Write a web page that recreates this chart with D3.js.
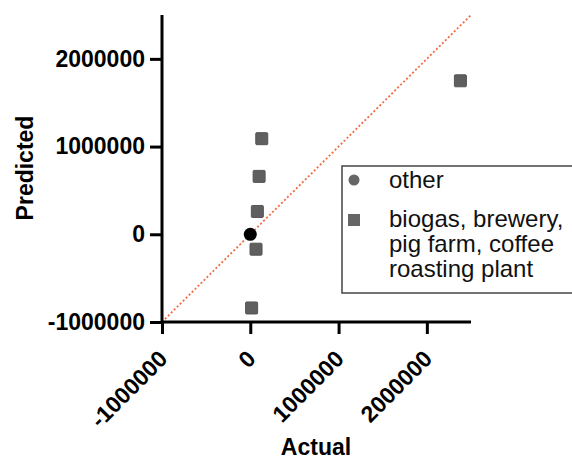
<!DOCTYPE html>
<html>
<head>
<meta charset="utf-8">
<script src="https://cdn.jsdelivr.net/npm/d3@7"></script>
<style>
  html, body { margin: 0; padding: 0; background: #fff; }
  svg { display: block; font-family: "Liberation Sans", Arial, sans-serif; }
</style>
</head>
<body>
<svg id="chart" width="572" height="460"></svg>
<script>
// Actual vs predicted values
const otherActual = [0];
const otherPredicted = [0];
const plantActual = [15000, 65000, 80000, 100000, 130000, 2380000];
const plantPredicted = [-840000, -170000, 260000, 660000, 1090000, 1750000];
const tickValues = [-1000000, 0, 1000000, 2000000];
const axisDomain = [-1000000, 2500000];
const legendLabels = ["other", ["biogas, brewery,", "pig farm, coffee", "roasting plant"]];

const svg = d3.select("#chart");
const x = d3.scaleLinear().domain(axisDomain).range([162, 471]);
const y = d3.scaleLinear().domain(axisDomain).range([322, 15]);
const fmt = d => (d < 0 ? "-" : "") + Math.abs(d);

// Identity line y = x
svg.append("line")
  .attr("x1", x(axisDomain[0])).attr("y1", y(axisDomain[0]))
  .attr("x2", x(axisDomain[1])).attr("y2", y(axisDomain[1]))
  .attr("stroke", "#f36a40").attr("stroke-width", 1.8)
  .attr("stroke-dasharray", "2,2.2");

// Axes
const yAxis = svg.append("g").attr("transform", `translate(${x(axisDomain[0])},0)`)
  .call(d3.axisLeft(y).tickValues(tickValues).tickFormat(fmt).tickSize(12).tickPadding(5));
const xAxis = svg.append("g").attr("transform", `translate(0,${y(axisDomain[0])})`)
  .call(d3.axisBottom(x).tickValues(tickValues).tickFormat(fmt).tickSize(12).tickPadding(4));

[xAxis, yAxis].forEach(g => {
  g.select(".domain").attr("stroke", "#000").attr("stroke-width", 3);
  g.selectAll(".tick line").attr("stroke", "#000").attr("stroke-width", 3);
  g.selectAll(".tick text").attr("fill", "#000").attr("font-size", 23)
    .attr("font-weight", "bold").attr("font-family", "Liberation Sans, Arial, sans-serif");
});
yAxis.select(".domain").attr("d", `M0,${y(axisDomain[1])}V${y(axisDomain[0])}`);
xAxis.select(".domain").attr("d", `M${x(axisDomain[0])},0H${x(axisDomain[1])}`);

xAxis.selectAll(".tick text")
  .attr("text-anchor", "end")
  .attr("dy", 0)
  .attr("transform", "translate(-5,27) rotate(-45)");

// Axis titles
svg.append("text").attr("x", 316).attr("y", 455).attr("text-anchor", "middle")
  .attr("font-size", 23).attr("font-weight", "bold").text("Actual");
svg.append("text").attr("transform", "translate(33,168) rotate(-90)").attr("text-anchor", "middle")
  .attr("font-size", 23).attr("font-weight", "bold").text("Predicted");

// Data points
const sq = 12;
svg.append("g").selectAll("rect")
  .data(plantActual.map((a, i) => [a, plantPredicted[i]]))
  .join("rect")
  .attr("x", d => x(d[0]) - sq / 2).attr("y", d => y(d[1]) - sq / 2)
  .attr("width", sq).attr("height", sq).attr("rx", 1)
  .attr("fill", "#5f5f5f").attr("stroke", "#555").attr("stroke-width", 1);

svg.append("g").selectAll("circle")
  .data(otherActual.map((a, i) => [a, otherPredicted[i]]))
  .join("circle")
  .attr("cx", d => x(d[0])).attr("cy", d => y(d[1])).attr("r", 6.5)
  .attr("fill", "#000");

// Legend
const lg = svg.append("g");
lg.append("rect").attr("x", 342).attr("y", 166).attr("width", 260).attr("height", 127)
  .attr("fill", "#fff").attr("stroke", "#444").attr("stroke-width", 1.5);
lg.append("circle").attr("cx", 354).attr("cy", 180).attr("r", 5.5).attr("fill", "#666");
lg.append("rect").attr("x", 348).attr("y", 214).attr("width", 12).attr("height", 12).attr("fill", "#666");
lg.append("text").attr("x", 389).attr("y", 188).attr("font-size", 24).attr("fill", "#111").text(legendLabels[0]);
const multi = lg.append("text").attr("x", 389).attr("y", 227).attr("font-size", 24).attr("fill", "#111");
legendLabels[1].forEach((t, i) => {
  multi.append("tspan").attr("x", 389).attr("dy", i === 0 ? 0 : 25).text(t);
});
</script>
</body>
</html>
